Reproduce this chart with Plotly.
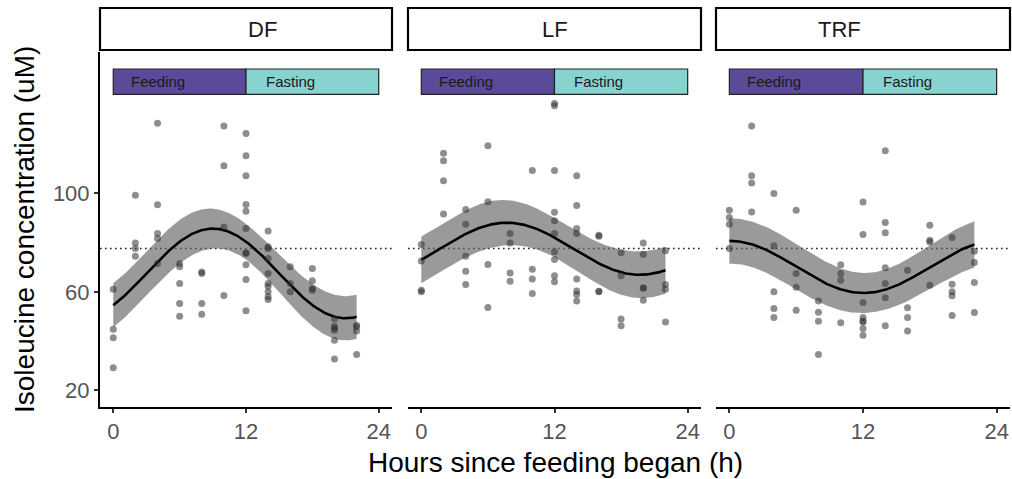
import numpy as np
import plotly.graph_objects as go

panels = ["DF", "LF", "TRF"]

df_hours = [0,0,0,0, 2,2,2,2, 4,4,4,4,4, 6,6,6,6,6, 8,8,8,8, 10,10,10,10,
            12,12,12,12,12,12,12,12,12,12,12, 14,14,14,14,14,14,14,14,14,14,
            16,16,16, 18,18,18,18, 20,20,20,20,20,20, 22,22,22,22]
df_conc = [61.1,44.8,41.3,29.2, 99.3,79.9,77.6,74.5, 128.5,95.4,83.7,81.7,71.5,
           71.5,70.2,63.4,55.3,50.1, 68.1,67.5,55.3,50.9, 127.4,111.3,86.4,58.5,
           124.4,115.3,107.2,95.5,92.8,85.8,75.9,75.6,71.0,65.0,52.3,
           84.7,78.3,77.6,73.6,67.5,63.4,62.3,60.0,58.0,56.9,
           70.2,63.4,60.0, 69.5,64.5,61.4,60.7, 49.1,46.0,45.1,44.4,40.3,32.7,
           46.4,45.8,44.1,34.5]

lf_hours = [0,0,0,0, 2,2,2,2, 4,4,4,4,4, 6,6,6,6, 8,8,8,8, 10,10,10,10,
            12,12,12,12,12,12,12,12,12,12, 14,14,14,14,14,14,14,14,
            16,16,16,16, 18,18,18,18, 20,20,20,20,20, 22,22,22,22]
lf_conc = [79.3,72.5,60.7,60.0, 116.3,113.3,105.2,91.7, 93.5,87.5,74.5,68.4,63.0,
           119.4,96.6,71.1,53.6, 83.7,79.9,67.7,64.3, 109.3,69.2,65.2,59.3,
           136.6,135.7,109.3,92.4,88.9,83.7,76.3,73.2,66.5,64.1,
           107.2,95.1,85.8,83.7,65.2,60.4,58.9,56.3,
           83.0,82.6,60.3,60.0, 75.9,66.6,49.0,46.2, 79.9,75.3,61.7,61.5,56.6,
           76.7,63.0,61.1,47.7]

trf_hours = [0,0,0,0, 2,2,2,2, 4,4,4,4,4, 6,6,6,6, 8,8,8,8, 10,10,10,10,
             12,12,12,12,12,12,12,12, 14,14,14,14,14,14,14,
             16,16,16,16, 18,18,18,18, 20,20,20,20,20, 22,22,22,22]
trf_conc = [93.2,90.2,87.5,77.6, 127.4,107.2,104.3,92.5, 100.0,78.7,60.0,53.2,49.6,
            93.2,67.5,61.9,52.5, 56.3,51.7,48.1,34.5, 71.0,67.5,64.7,47.4,
            96.5,83.3,55.7,49.6,48.2,47.8,45.1,42.4,
            117.4,88.2,84.0,69.8,63.4,57.6,46.2,
            68.8,53.5,49.6,44.1, 87.1,81.0,80.3,62.7, 82.1,63.1,60.0,58.4,50.4,
            76.5,71.9,63.8,51.6]

overall_mean = 77.6
phase_labels = ["Feeding", "Fasting"]
phase_start = [0, 12]
phase_end = [12, 24]
phase_colors = ["#5B4A9A", "#87D3D0"]
phase_ymin, phase_ymax = 140.3, 150.6
x_ticks = [0, 12, 24]
y_ticks = [20, 60, 100]

data = {"DF": (df_hours, df_conc), "LF": (lf_hours, lf_conc), "TRF": (trf_hours, trf_conc)}

FONT = "Liberation Sans, Arial, Helvetica"
W, H = 1012, 479
ml, mr, mt, mb = 100, 2, 52, 72
pw, ph = W - ml - mr, H - mt - mb


def px_x(p):
    return (p - ml) / pw


def px_y(p):
    return (H - mb - p) / ph


domains = [[px_x(100), px_x(392)], [px_x(408), px_x(701)], [px_x(716), px_x(1010)]]


def cosinor_fit(t, y, tgrid):
    t = np.asarray(t, float); y = np.asarray(y, float)
    w = 2 * np.pi / 24
    X = np.column_stack([np.ones_like(t), np.cos(w * t), np.sin(w * t)])
    beta, *_ = np.linalg.lstsq(X, y, rcond=None)
    resid = y - X @ beta
    s2 = resid @ resid / (len(y) - 3)
    cov = s2 * np.linalg.inv(X.T @ X)
    Xg = np.column_stack([np.ones_like(tgrid), np.cos(w * tgrid), np.sin(w * tgrid)])
    fit = Xg @ beta
    se = np.sqrt(np.einsum("ij,jk,ik->i", Xg, cov, Xg))
    return fit, fit - 1.99 * se, fit + 1.99 * se


fig = go.Figure()
tgrid = np.linspace(0, 22, 200)

for i, p in enumerate(panels):
    xa = "x" if i == 0 else f"x{i+1}"
    ya = "y" if i == 0 else f"y{i+1}"
    hrs, conc = data[p]
    fit, lo, hi = cosinor_fit(hrs, conc, tgrid)
    fig.add_trace(go.Scatter(x=np.concatenate([tgrid, tgrid[::-1]]),
                             y=np.concatenate([hi, lo[::-1]]),
                             fill="toself", fillcolor="rgba(100,100,100,0.65)",
                             line=dict(width=0), mode="lines", hoverinfo="skip",
                             showlegend=False, xaxis=xa, yaxis=ya))
    fig.add_trace(go.Scatter(x=tgrid, y=fit, mode="lines",
                             line=dict(color="black", width=2.6),
                             showlegend=False, xaxis=xa, yaxis=ya))
    fig.add_trace(go.Scatter(x=hrs, y=conc, mode="markers",
                             marker=dict(color="rgba(50,50,50,0.55)", size=7, line=dict(width=0)),
                             showlegend=False, xaxis=xa, yaxis=ya))
    fig.add_shape(type="line", xref=f"{xa} domain", yref=ya, x0=0, x1=1,
                  y0=overall_mean, y1=overall_mean,
                  line=dict(color="#222222", width=1.6, dash="1.6px,3.4px"), layer="below")
    for lab, s, e, c in zip(phase_labels, phase_start, phase_end, phase_colors):
        fig.add_shape(type="rect", xref=xa, yref=ya, x0=s, x1=e, y0=phase_ymin, y1=phase_ymax,
                      fillcolor=c, line=dict(color="#222222", width=1.2))
        fig.add_annotation(x=(s + e) / 2 - 2, y=(phase_ymin + phase_ymax) / 2, xref=xa, yref=ya,
                           text=lab, showarrow=False,
                           font=dict(family=FONT, size=15, color="#1a1a1a"))
    d0, d1 = domains[i]
    fig.add_shape(type="rect", xref="paper", yref="paper", x0=d0, x1=d1,
                  y0=px_y(50), y1=px_y(8),
                  fillcolor="white", line=dict(color="black", width=2.2))
    fig.add_annotation(x=(d0 + d1) / 2, y=px_y(29), xref="paper", yref="paper",
                       text=p, showarrow=False, yanchor="middle",
                       font=dict(family=FONT, size=22, color="#1a1a1a"))

    xaxis = dict(domain=domains[i], range=[-1.2, 25.2], tickvals=x_ticks,
                 showline=True, linecolor="black", linewidth=2, showgrid=False, zeroline=False,
                 ticks="outside", ticklen=4, tickwidth=1.5, tickcolor="#333333",
                 tickfont=dict(family=FONT, size=22, color="#555555"),
                 anchor=ya, automargin=False)
    yaxis = dict(range=[13.2, 157.5], tickvals=y_ticks, showgrid=False, zeroline=False,
                 anchor=xa, domain=[0, 1], automargin=False)
    if i == 0:
        yaxis.update(showline=True, linecolor="black", linewidth=2, ticks="outside",
                     ticklen=4, tickwidth=1.5, tickcolor="#333333",
                     tickfont=dict(family=FONT, size=22, color="#555555"))
    else:
        yaxis.update(showline=False, showticklabels=False, ticks="")
    key = "" if i == 0 else str(i + 1)
    fig.layout["xaxis" + key] = xaxis
    fig.layout["yaxis" + key] = yaxis

fig.add_annotation(x=(px_x(100) + 1) / 2, y=px_y(462), xref="paper", yref="paper",
                   text="Hours since feeding began (h)", showarrow=False, yanchor="middle",
                   font=dict(family=FONT, size=28, color="black"))
fig.add_annotation(x=px_x(24), y=px_y(230), xref="paper", yref="paper",
                   text="Isoleucine concentration (uM)", showarrow=False, textangle=-90,
                   xanchor="center", yanchor="middle",
                   font=dict(family=FONT, size=28, color="black"))

fig.update_layout(width=W, height=H, margin=dict(l=ml, r=mr, t=mt, b=mb),
                  plot_bgcolor="white", paper_bgcolor="white", showlegend=False)

fig.write_html("out.html", config={"displayModeBar": False},
               post_script="document.body.style.margin='0px';document.body.style.overflow='hidden';")
